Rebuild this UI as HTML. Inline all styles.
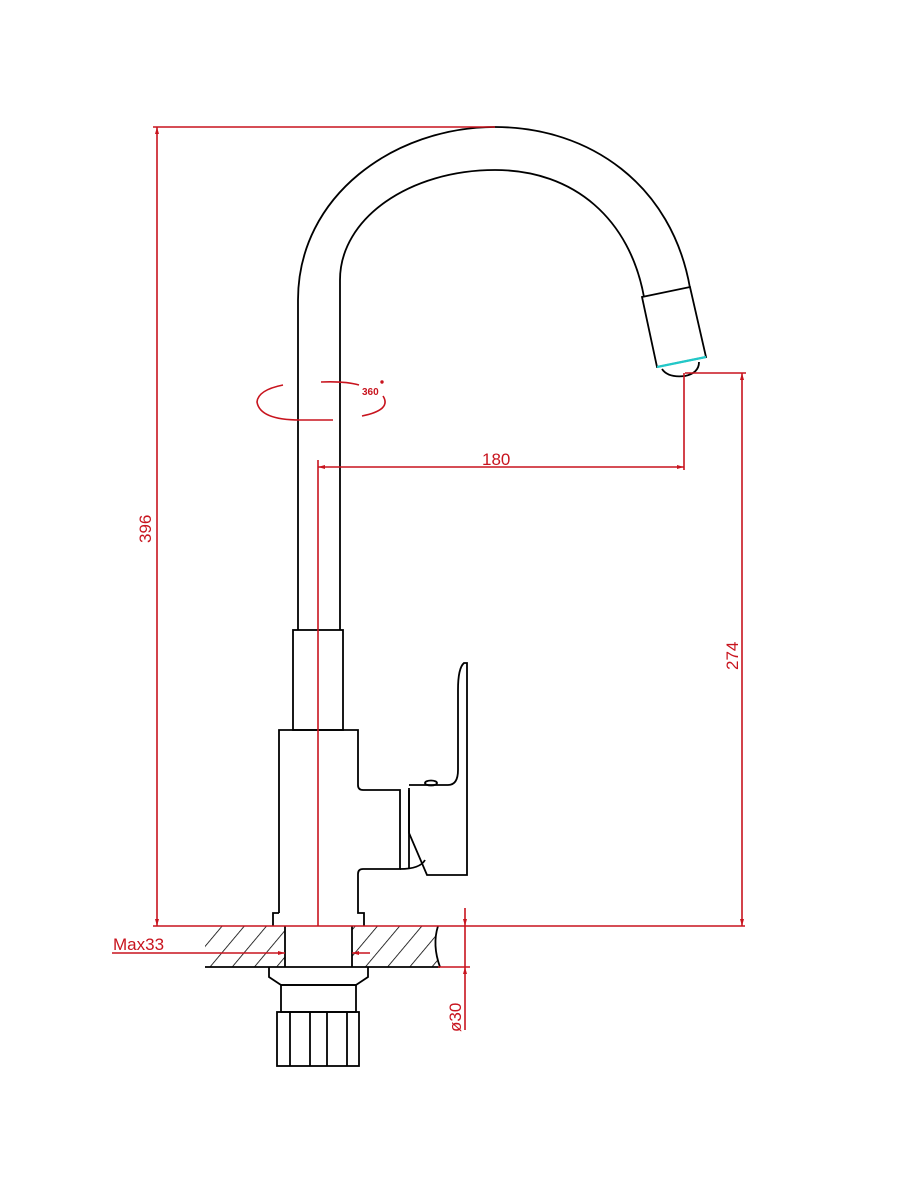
<!DOCTYPE html>
<html><head><meta charset="utf-8"><style>html,body{margin:0;padding:0;background:#fff}svg{display:block}</style></head>
<body>
<svg width="900" height="1200" viewBox="0 0 900 1200" xmlns="http://www.w3.org/2000/svg">
<defs>
<pattern id="h" width="17" height="17" patternUnits="userSpaceOnUse" patternTransform="rotate(40)">
<line x1="0" y1="0" x2="0" y2="17" stroke="#000" stroke-width="1.6"/>
</pattern>
</defs>
<path d="M205,926 L285,926 L285,967 L205,967 Z" fill="url(#h)"/>
<path d="M352,926 L438,926 Q432,945 440,967 L352,967 Z" fill="url(#h)"/>
<g fill="none" stroke="#000" stroke-width="1.8">
<line x1="205" y1="967" x2="440" y2="967"/>
<line x1="285" y1="926" x2="285" y2="967"/>
<line x1="352" y1="926" x2="352" y2="967"/>
<path d="M438,926 Q432,945 440,967"/>
<path d="M298,630 L298,300 C298,195 395,127 495,127 C590,127 672,185 690,288"/>
<path d="M340,630 L340,280 C340,218 410,170 495,170 C575,170 630,220 644,297"/>
<path d="M642,297 L690,287 L706,357 L657,367 Z"/>
<path d="M662,369 Q668,378 685,376 Q699,373 699,362"/>
<rect x="293" y="630" width="50" height="100"/>
<path d="M279,913 L279,730 L358,730 L358,785 Q358,790 363,790 L400,790 L400,869 L363,869 Q358,869 358,874 L358,913 L364,913 L364,926 M279,913 L273,913 L273,926"/>
<line x1="409" y1="790" x2="409" y2="869"/>
<path d="M400,869 Q420,869 425,860"/>
<path d="M409,788 L409,833 L427,875 L467,875 L467,663 L464,663 Q458,668 458,690 L458,770 Q458,785 448,785 L409,785"/>
<ellipse cx="431" cy="783" rx="6" ry="2.5"/>
<path d="M269,967 L269,977 L281,985 L356,985 L368,977 L368,967"/>
<rect x="281" y="985" width="75" height="27"/>
<rect x="277" y="1012" width="82" height="54"/>
<line x1="290" y1="1012" x2="290" y2="1066"/>
<line x1="310" y1="1012" x2="310" y2="1066"/>
<line x1="327" y1="1012" x2="327" y2="1066"/>
<line x1="347" y1="1012" x2="347" y2="1066"/>
</g>
<line x1="657" y1="367" x2="706" y2="357" stroke="#22c8c8" stroke-width="2.2"/>
<g stroke="#c8141e" stroke-width="1.6" fill="none">
<line x1="153" y1="127" x2="495" y2="127"/>
<line x1="157" y1="127" x2="157" y2="926"/>
<line x1="153" y1="926" x2="745" y2="926"/>
<line x1="685" y1="373" x2="746" y2="373"/>
<line x1="742" y1="373" x2="742" y2="926"/>
<line x1="318" y1="467" x2="684" y2="467"/>
<line x1="318" y1="460" x2="318" y2="926"/>
<line x1="684" y1="373" x2="684" y2="470"/>
<line x1="112" y1="953" x2="285" y2="953"/>
<line x1="352" y1="953" x2="370" y2="953"/>
<line x1="465" y1="908" x2="465" y2="1030"/>
<line x1="438" y1="967" x2="470" y2="967"/>
<path d="M283,385 Q258,390 257,402 Q260,420 300,420 L333,420" stroke-width="1.6"/>
<path d="M321,382 Q345,381 359,385" stroke-width="1.6"/>
<path d="M383,396 Q392,410 362,416" stroke-width="1.6"/>
</g>
<g fill="#c8141e">
<path d="M157,127 l-2,7 l4,0z"/><path d="M157,926 l-2,-7 l4,0z"/>
<path d="M742,373 l-2,7 l4,0z"/><path d="M742,926 l-2,-7 l4,0z"/>
<path d="M318,467 l7,-2 l0,4z"/><path d="M684,467 l-7,-2 l0,4z"/>
<path d="M465,926 l-2,-7 l4,0z"/><path d="M465,967 l-2,7 l4,0z"/>
<path d="M285,953 l-7,-2 l0,4z"/><path d="M352,953 l7,-2 l0,4z"/>
<circle cx="382" cy="382" r="1.7"/>
</g>
<g fill="#c8141e" font-family="Liberation Sans, sans-serif">
<text x="482" y="465" font-size="17">180</text>
<text x="113" y="950" font-size="17">Max33</text>
<text x="362" y="395" font-size="10" font-weight="bold">360</text>
<text transform="translate(151,543) rotate(-90)" font-size="17">396</text>
<text transform="translate(738,670) rotate(-90)" font-size="17">274</text>
<text transform="translate(461,1032) rotate(-90)" font-size="17">ø30</text>
</g>
</svg>
</body></html>
